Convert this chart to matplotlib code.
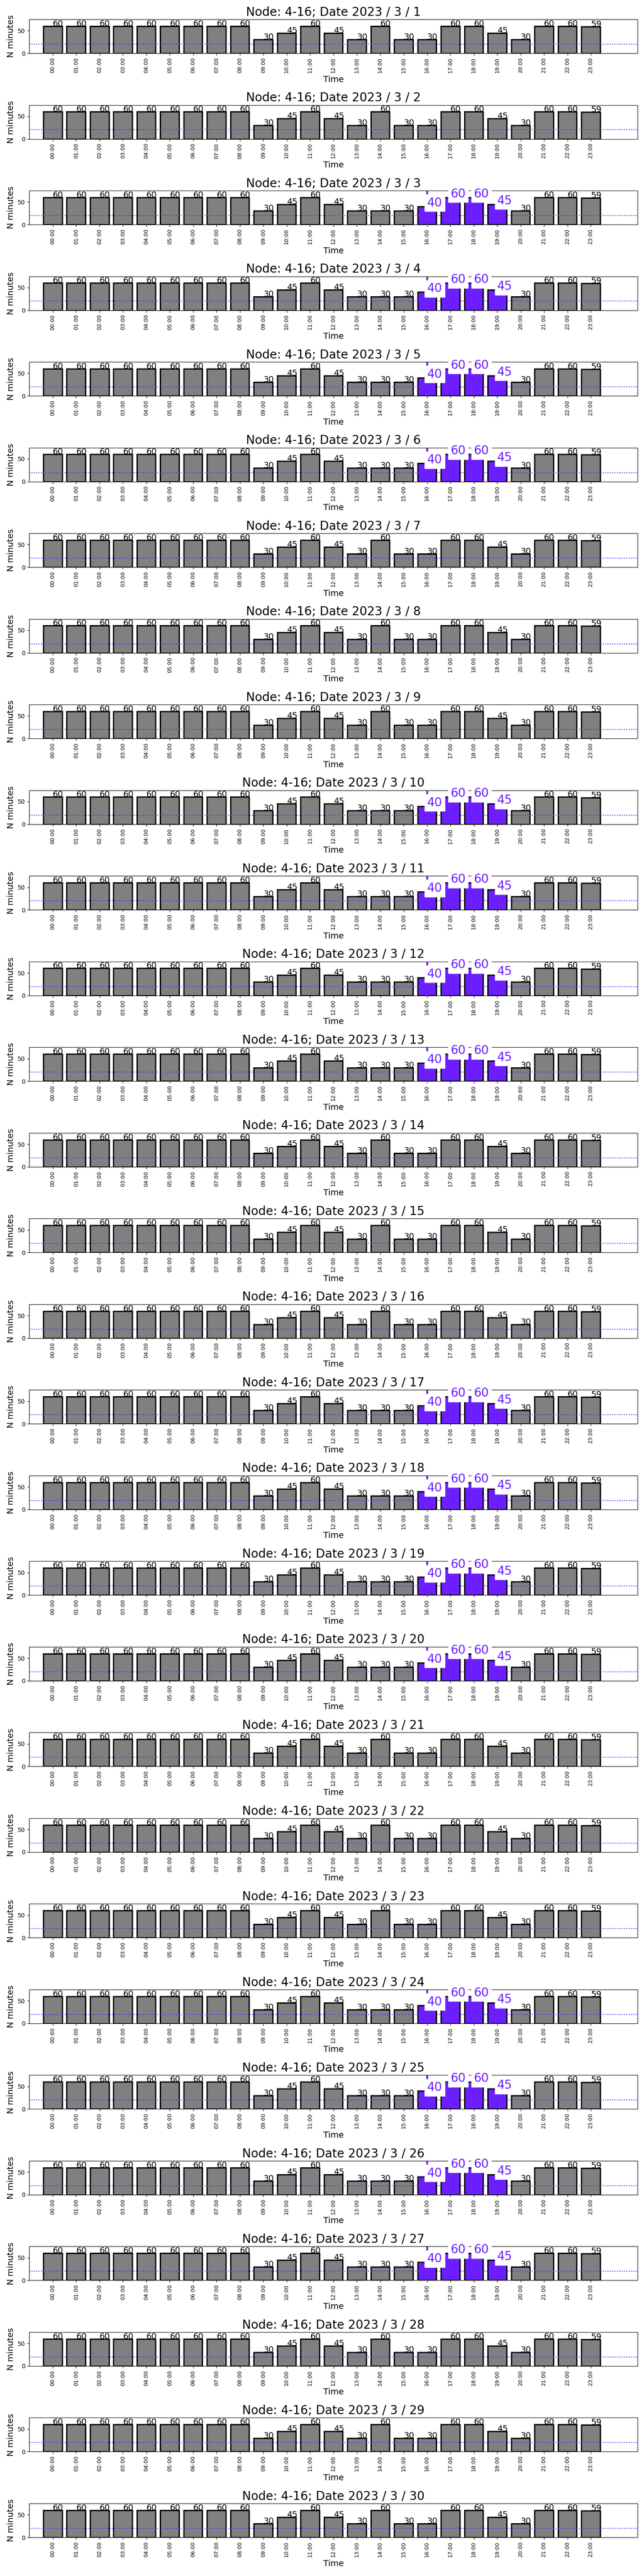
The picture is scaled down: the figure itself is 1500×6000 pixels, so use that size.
import matplotlib
matplotlib.use('Agg')
import numpy as np
from matplotlib import pyplot as plt

node = '4-16'
year = 2023
month = 3
days = list(range(1, 31))
hours = ['%02d:00' % h for h in range(24)]

# minutes per hour, regular days
minutes_regular = [60, 60, 60, 60, 60, 60, 60, 60, 60, 30, 45, 60,
                   45, 30, 60, 30, 30, 60, 60, 45, 30, 60, 60, 59]
# minutes per hour, days with highlighted evening hours
minutes_peak = [60, 60, 60, 60, 60, 60, 60, 60, 60, 30, 45, 60,
                45, 30, 30, 30, 40, 60, 60, 45, 30, 60, 60, 59]
peak_days = [3, 4, 5, 6, 10, 11, 12, 13, 17, 18, 19, 20, 24, 25, 26, 27]
peak_hours = [16, 17, 18, 19]
threshold = 20
purple = '#6b1fff'

fig, axes = plt.subplots(len(days), 1, figsize=(15, 60), dpi=100)

for ax, day in zip(axes, days):
    if day in peak_days:
        vals = minutes_peak
    else:
        vals = minutes_regular
    x = np.arange(len(hours))
    cols = []
    for i in range(len(hours)):
        if day in peak_days and i in peak_hours:
            cols.append(purple)
        else:
            cols.append('gray')
    ax.bar(x, vals, width=0.8, color=cols, edgecolor='black', linewidth=2.2)
    ax.axhline(threshold, color=purple, linestyle=':', linewidth=1.5)
    for i, v in enumerate(vals):
        if day in peak_days and i in peak_hours:
            ax.text(x[i], v, str(v), fontsize=20, color=purple,
                    bbox=dict(facecolor='white', edgecolor='white'))
        else:
            ax.text(x[i], v, str(v), fontsize=14)
    if day in peak_days:
        ax.axvline(peak_hours[0], color=purple, linewidth=3)

    ax.set_xlim(-1, 25)
    ax.set_ylim(0, 75)
    ax.set_yticks([0, 50])
    ax.set_xticks(x)
    ax.set_xticklabels(hours, rotation=90, fontsize=9)
    ax.set_xlabel('Time', fontsize=14)
    ax.set_ylabel('N minutes', fontsize=14)
    ax.set_title('Node: %s; Date %d / %d / %d' % (node, year, month, day), fontsize=20)

plt.subplots_adjust(left=0.0455, right=0.99, top=0.9925, bottom=0.015, hspace=1.525)
plt.savefig('out.png')
plt.close()
